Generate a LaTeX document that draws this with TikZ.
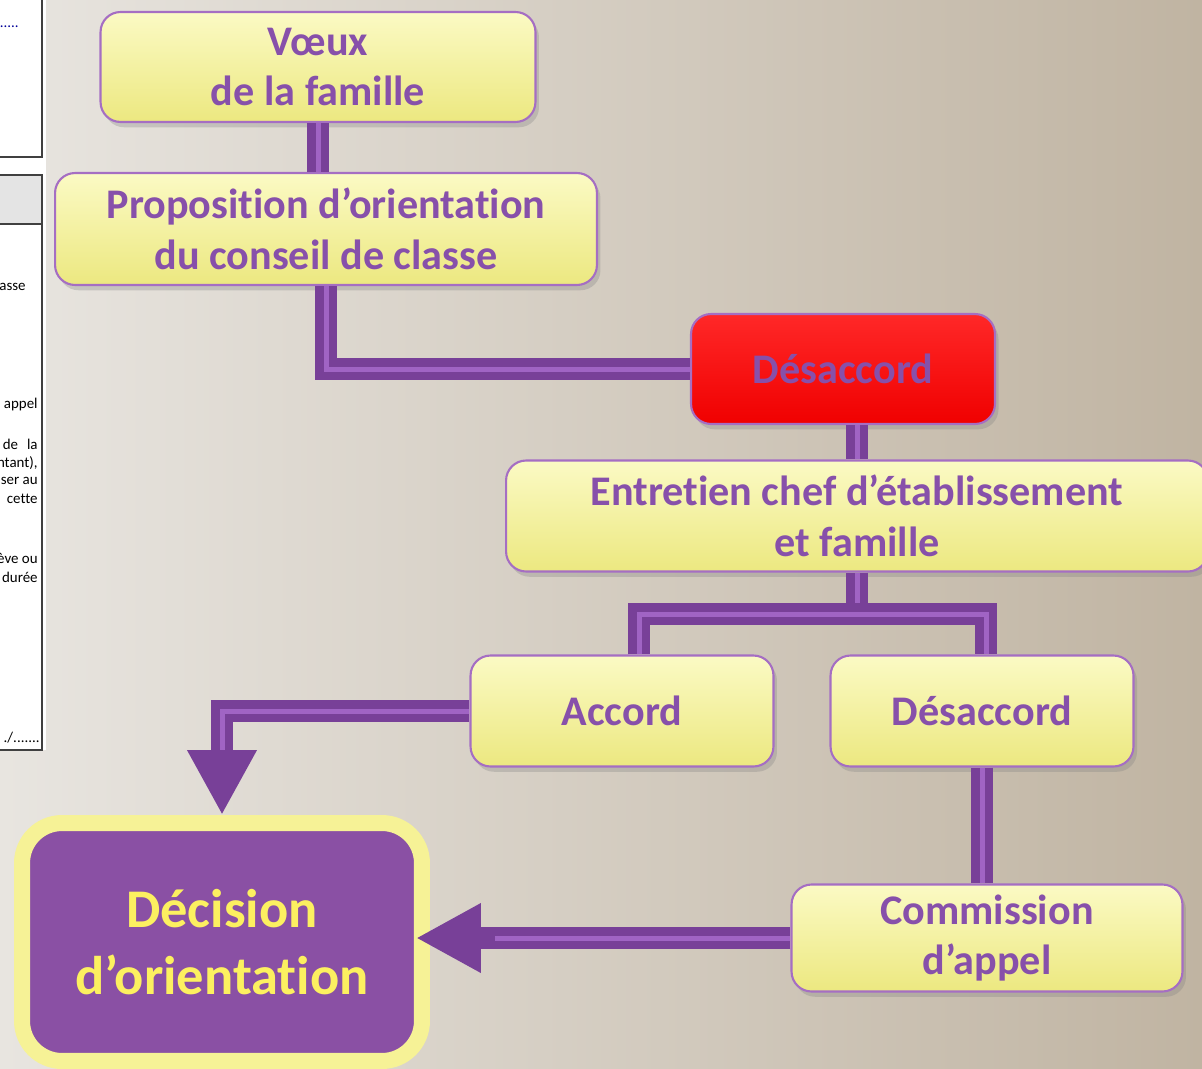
\documentclass[tikz,border=0pt]{standalone}
\usepackage{fontspec}
\setmainfont{Carlito}[Ligatures={NoCommon}]
\usepackage{tikz}
\usetikzlibrary{arrows.meta, calc, shadows}
\newcommand{\sepTi}{t\kern0pt i}
\definecolor{fondgauche}{RGB}{232, 229, 224}
\definecolor{fonddroite}{RGB}{192, 180, 162}
\definecolor{jaunehaut}{RGB}{251, 250, 196}
\definecolor{jaunebas}{RGB}{236, 232, 128}
\definecolor{bordviolet}{RGB}{165, 110, 195}
\definecolor{texteviolet}{RGB}{135, 80, 170}
\definecolor{tubeviolet}{RGB}{120, 64, 152}
\definecolor{tubeclair}{RGB}{160, 100, 196}
\definecolor{rougehaut}{RGB}{255, 40, 40}
\definecolor{rougebas}{RGB}{240, 0, 0}
\definecolor{decisfond}{RGB}{138, 80, 164}
\definecolor{decisbord}{RGB}{246, 242, 150}
\definecolor{decistexte}{RGB}{252, 240, 96}
\definecolor{entete}{RGB}{228, 228, 228}
\tikzstyle{etape} = [rectangle, rounded corners=0.4cm, minimum width=6.06cm, minimum height=2.22cm, align=center, draw=bordviolet, line width=1.2pt, top color=jaunehaut, bottom color=jaunebas, text=texteviolet, font=\fontsize{24}{29}\selectfont\bfseries, drop shadow={shadow xshift=2pt, shadow yshift=-3pt, opacity=0.3}]
\tikzstyle{alerte} = [etape, minimum width=6.08cm, minimum height=2.2cm, top color=rougehaut, bottom color=rougebas, draw=bordviolet]
\tikzstyle{final} = [rectangle, rounded corners=0.8cm, minimum width=8cm, minimum height=4.76cm, align=center, draw=decisbord, line width=0.32cm, fill=decisfond, text=decistexte, font=\fontsize{31}{38}\selectfont\bfseries, drop shadow={shadow xshift=2pt, shadow yshift=-3pt, opacity=0.3}]
\tikzstyle{tube} = [line width=0.44cm, draw=tubeviolet, line join=miter, postaction={draw=tubeclair, line width=0.1cm}]
\tikzstyle{tubearrow} = [line width=0.44cm, draw=tubeviolet, line join=miter, -{Triangle[length=1.3cm, width=1.3cm]}, postaction={draw=tubeclair, line width=0.1cm, -, shorten >=1.3cm}]
\tikzstyle{page} = [anchor=east, inner sep=0pt, font=\fontsize{8.5}{10}\selectfont, text=black]

\begin{document}
\begin{tikzpicture}[x=0.02cm, y=-0.02cm]

\useasboundingbox (0,0) rectangle (1202,1068);
\clip (0,0) rectangle (1202,1068);
\shade[left color=fondgauche, right color=fonddroite] (0,0) rectangle (1202,1068);

% page coupee a gauche
\fill[white] (0,0) rectangle (46,750);
\fill[entete] (0,175) rectangle (42,224);
\draw[black!75, line width=0.6pt] (-2,-2) rectangle (42,157);
\draw[black!75, line width=0.6pt] (-2,175) rectangle (42,750);
\draw[black!75, line width=0.6pt] (-2,224) -- (42,224);
\foreach \y/\x/\txt [count=\i] in {27/19/{\textcolor{blue!60!black}{......}}, 287/26/asse, 405/38/appel, 444/38/{de\hspace{0.6em}la}, 463/38/{ntant),}, 481/38/{ser au}, 499/38/cette, 558/38/{ève ou}, 577/38/durée, 738/40/{./.......}}
    \node[page] (pg\i) at (\x,\y) {\txt};

% etapes
\node[etape, minimum width=8.7cm, minimum height=2.2cm] (voeux) at (318,67) {Vœux\\de la famille};
\node[etape, minimum width=10.84cm, minimum height=2.24cm] (propo) at (326,229) {Proposi\sepTi on d’orienta\sepTi on\\du conseil de classe};
\node[alerte] (desac) at (843,369) {Désaccord};
\node[etape, minimum width=14.04cm] (entre) at (857,516) {Entre\sepTi en chef d’établissement\\et famille};
\node[etape] (accord) at (622,711) {Accord};
\node[etape] (desac2) at (982,711) {Désaccord};
\node[etape, minimum width=7.82cm, minimum height=2.14cm] (comm) at (987,938) {Commission\\d’appel};
\node[final] (decis) at (222,942) {Décision\\d’orienta\sepTi on};

% liaisons
\coordinate (fourche) at (857,614);
\draw[tube] (voeux.south) -- (voeux.south |- propo.north);
\draw[tube] (propo.south) |- (desac.west);
\draw[tube] (entre.north |- desac.south) -- (entre.north);
\draw[tube] (entre.south) -- (fourche);
\draw[tube] ($(accord.north)+(17,0)$) |- (fourche) -| ($(desac2.north)+(4,0)$);
\draw[tube] (desac2.south) -- (desac2.south |- comm.north);
\draw[tubearrow] (accord.west) -| (decis.north);
\draw[tubearrow, shorten >=-0.28cm] (comm.west) -- (comm.west -| decis.east);

\end{tikzpicture}
\end{document}
